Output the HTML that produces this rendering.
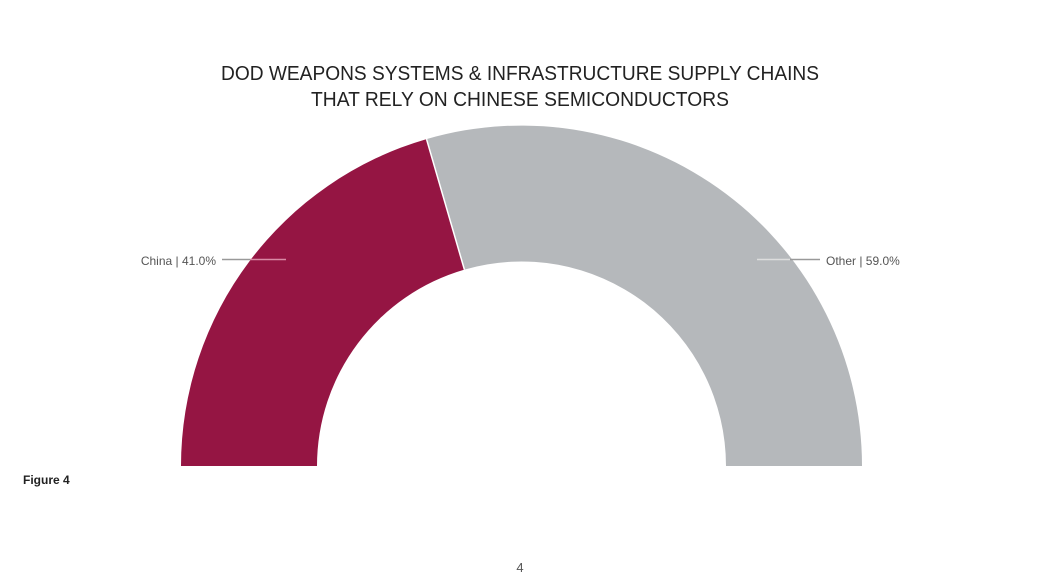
<!DOCTYPE html>
<html><head><meta charset="utf-8"><style>
html,body{margin:0;padding:0;background:#fff;}
body{width:1057px;height:584px;overflow:hidden;position:relative;font-family:"Liberation Sans",sans-serif;}
</style></head><body>
<svg width="1057" height="584" viewBox="0 0 1057 584" xmlns="http://www.w3.org/2000/svg" style="position:absolute;left:0;top:0">
<text x="221" y="80" textLength="598" lengthAdjust="spacingAndGlyphs" font-family="Liberation Sans, sans-serif" font-size="20" fill="#222">DOD WEAPONS SYSTEMS &amp; INFRASTRUCTURE SUPPLY CHAINS</text>
<text x="311" y="106" textLength="418" lengthAdjust="spacingAndGlyphs" font-family="Liberation Sans, sans-serif" font-size="20" fill="#222">THAT RELY ON CHINESE SEMICONDUCTORS</text>
<path d="M181,466 A340.5,340.5 0 0 1 426.5,139.1 L464.4,269.6 A204.5,204.5 0 0 0 317,466 Z" fill="#951543"/>
<path d="M426.5,139.1 A340.5,340.5 0 0 1 862,466 L726,466 A204.5,204.5 0 0 0 464.4,269.6 Z" fill="#b5b8bb"/>
<line x1="426.5" y1="139.1" x2="464.4" y2="269.6" stroke="#fff" stroke-width="1.5"/>
<line x1="222" y1="259.5" x2="250" y2="259.5" stroke="#999" stroke-width="1.5"/>
<line x1="250" y1="259.5" x2="286" y2="259.5" stroke="#d98aa5" stroke-width="1.5"/>
<line x1="757" y1="259.5" x2="790" y2="259.5" stroke="#ddd" stroke-width="1.5"/>
<line x1="790" y1="259.5" x2="820" y2="259.5" stroke="#999" stroke-width="1.5"/>
<text x="216" y="265" text-anchor="end" font-size="12" fill="#555">China | 41.0%</text>
<text x="826" y="265" font-size="12" fill="#555">Other | 59.0%</text>
<text x="23" y="484" font-size="12" font-weight="bold" fill="#222">Figure 4</text>
<text x="520" y="572" text-anchor="middle" font-size="13" fill="#555">4</text>
</svg>
</body></html>
